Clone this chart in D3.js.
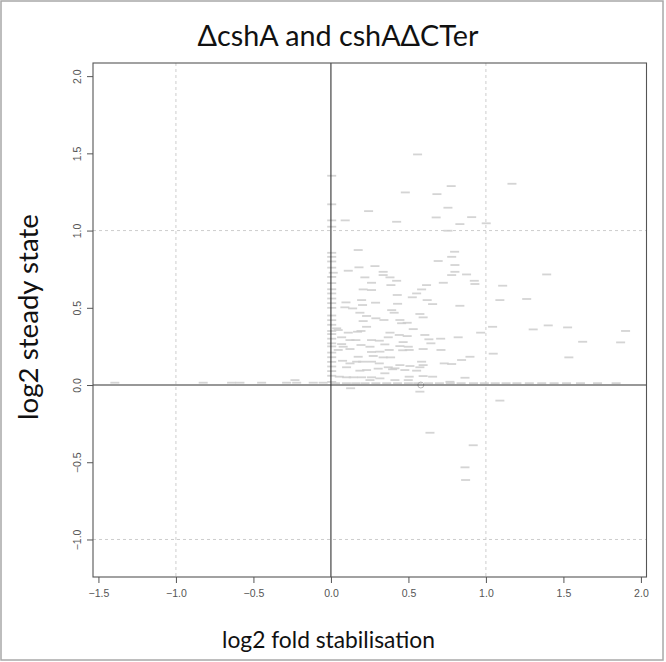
<!DOCTYPE html>
<html><head><meta charset="utf-8">
<script src="https://cdn.jsdelivr.net/npm/d3@7"></script>
<style>html,body{margin:0;padding:0;background:#fff;}svg{display:block;}</style>
</head><body>
<svg id="c" width="666" height="662"></svg>
<script>
const titleText = "\u0394cshA and cshA\u0394CTer";
const xLabel = "log2 fold stabilisation";
const yLabel = "log2 steady state";
const xTicks = [-1.5, -1.0, -0.5, 0.0, 0.5, 1.0, 1.5, 2.0];
const yTicks = [-1.0, -0.5, 0.0, 0.5, 1.0, 1.5, 2.0];
const xGrid = [-1, 1];
const yGrid = [-1, 1];
const highlighted = [[0.58, 0.0]];
// log2 fold stabilisation (x) and log2 steady state (y) for each gene label
const stabilisation = [
0.559,0.005,1.168,0.776,0.48,0.684,0.005,0.243,0.755,0.092,0.005,0.005,0.424,0.679,0.908,0.832,1.002,0.755,0.176,0.798,0.005,0.005,0.779,
0.692,0.8,0.284,0.181,0.112,0.337,0.015,0.8,0.779,0.875,0.219,0.337,0.381,0.424,0.925,0.262,0.725,0.929,1.108,0.387,0.617,0.208,0.262,0.585,0.005,0.553,0.428,0.525,0.198,0.621,1.09,0.097,0.288,0.43,0.656,0.204,0.005,0.09,0.14,0.832,0.392,0.187,0.408,0.23,0.574,0.595,0.29,0.342,0.445,0.208,0.456,0.492,0.005,0.23,0.531,0.047,0.037,0.172,0.194,0.112,0.381,0.966,1.043,0.005,0.441,0.492,0.606,0.069,0.821,0.37,0.123,0.161,0.262,0.312,0.632,0.708,0.466,0.348,0.069,0.079,0.005,0.194,0.252,0.445,0.499,0.645,0.047,0.123,0.595,0.262,0.316,0.376,0.463,0.505,0.71,0.897,0.843,1.047,0.176,0.273,0.337,0.385,0.005,0.075,0.123,0.166,0.204,0.262,0.312,0.585,0.595,0.731,0.779,0.445,0.51,0.37,0.398,0.413,0.101,0.187,0.23,0.305,0.477,0.553,0.574,0.348,0.054,0.101,0.144,0.198,0.262,0.316,0.505,0.595,0.656,0.865,0.252,0.413,0.499,0.768,0.127,0.574,
1.09,0.639,0.918,0.865,0.869,
1.392,1.263,1.305,1.402,1.527,1.901,1.624,1.869,1.535,
-1.394,-0.824,-0.641,-0.587,-0.447,-0.286,-0.221,-0.114,-0.05,-0.232,
0.03,0.1,0.16,0.22,0.29,0.36,0.43,0.5,0.56,0.63,0.7,0.77,0.84,0.92,0.99,1.06,1.13,1.2,1.28,1.36,1.44,1.52,1.61,1.72,1.84,
0.005,0.005,0.005,0.005,0.005,0.005,0.005,0.005,0.005,0.005,0.005,0.005,0.005,0.005,0.005,0.005,0.005,0.005
];
const steadyState = [
1.493,1.355,1.303,1.288,1.247,1.236,1.17,1.126,1.148,1.066,1.066,1.025,1.057,1.085,1.087,1.042,1.047,0.999,0.874,0.863,0.856,0.83,0.83,
0.803,0.777,0.77,0.762,0.74,0.733,0.727,0.733,0.712,0.716,0.697,0.712,0.697,0.675,0.675,0.662,0.662,0.654,0.643,0.647,0.647,0.619,0.615,0.619,0.593,0.593,0.583,0.568,0.55,0.55,0.55,0.535,0.533,0.526,0.524,0.518,0.5,0.503,0.496,0.513,0.485,0.468,0.468,0.447,0.46,0.438,0.432,0.421,0.421,0.414,0.4,0.403,0.39,0.377,0.362,0.356,0.367,0.345,0.35,0.339,0.339,0.339,0.377,0.33,0.324,0.317,0.324,0.309,0.309,0.309,0.291,0.291,0.291,0.287,0.296,0.3,0.278,0.263,0.265,0.248,0.25,0.259,0.248,0.252,0.248,0.27,0.227,0.233,0.233,0.214,0.216,0.227,0.225,0.227,0.227,0.183,0.162,0.203,0.183,0.188,0.179,0.179,0.18,0.157,0.14,0.151,0.151,0.151,0.14,0.151,0.129,0.14,0.136,0.129,0.123,0.115,0.102,0.108,0.115,0.093,0.097,0.106,0.097,0.093,0.115,0.076,0.054,0.05,0.05,0.05,0.05,0.043,0.054,0.058,0.054,0.047,0.032,0.032,0.032,0.021,-0.021,-0.043,
-0.101,-0.309,-0.39,-0.533,-0.615,
0.716,0.557,0.36,0.386,0.373,0.35,0.28,0.276,0.179,
0.015,0.015,0.015,0.015,0.015,0.015,0.015,0.015,0.015,0.032,
0.012,0.012,0.012,0.012,0.012,0.012,0.012,0.012,0.012,0.012,0.012,0.012,0.012,0.012,0.012,0.012,0.012,0.012,0.012,0.012,0.012,0.012,0.012,0.012,0.012,
0.02,0.06,0.09,0.12,0.15,0.21,0.27,0.3,0.35,0.42,0.45,0.53,0.56,0.62,0.66,0.7,0.76,0.8
];

const svg = d3.select("#c");
const m = {left: 93, top: 63, right: 646.5, bottom: 577};
const x = d3.scaleLinear().domain([-1.535, 2.036]).range([m.left, m.right]);
const y = d3.scaleLinear().domain([-1.243, 2.085]).range([m.bottom, m.top]);

// outer frame
svg.append("rect").attr("x", 1).attr("y", 1).attr("width", 662).attr("height", 659)
  .attr("fill", "#fff").attr("stroke", "#a8a8a8").attr("stroke-width", 1.5);

// grid lines
svg.selectAll(".gx").data(xGrid).join("line")
  .attr("x1", d => x(d)).attr("x2", d => x(d)).attr("y1", m.top).attr("y2", m.bottom)
  .attr("stroke", "#cdcdcd").attr("stroke-dasharray", "3,3");
svg.selectAll(".gy").data(yGrid).join("line")
  .attr("y1", d => y(d)).attr("y2", d => y(d)).attr("x1", m.left).attr("x2", m.right)
  .attr("stroke", "#cdcdcd").attr("stroke-dasharray", "3,3");

// points (gene labels rendered as tiny marks)
const pts = stabilisation.map((v, i) => [v, steadyState[i]]);
svg.append("g").selectAll("rect").data(pts).join("rect")
  .attr("x", d => x(d[0]) - 4.5).attr("y", d => y(d[1]) - 0.9)
  .attr("width", 9).attr("height", 1.8)
  .attr("fill", "#cccccc").attr("opacity", 0.85);

svg.selectAll(".hl").data(highlighted).join("circle")
  .attr("cx", d => x(d[0])).attr("cy", d => y(d[1])).attr("r", 3)
  .attr("fill", "none").attr("stroke", "#aaa").attr("stroke-width", 0.8);

// zero lines
svg.append("line").attr("x1", x(0)).attr("x2", x(0)).attr("y1", m.top).attr("y2", m.bottom)
  .attr("stroke", "#333").attr("stroke-width", 1.1);
svg.append("line").attr("y1", y(0)).attr("y2", y(0)).attr("x1", m.left).attr("x2", m.right)
  .attr("stroke", "#333").attr("stroke-width", 1.1);

// box
svg.append("rect").attr("x", m.left).attr("y", m.top).attr("width", m.right - m.left).attr("height", m.bottom - m.top)
  .attr("fill", "none").attr("stroke", "#555").attr("stroke-width", 1.1);

// axes
const xa = svg.append("g").attr("transform", `translate(0,${m.bottom})`)
  .call(d3.axisBottom(x).tickValues(xTicks).tickFormat(d3.format(".1f")).tickSize(6).tickPadding(7));
const ya = svg.append("g").attr("transform", `translate(${m.left},0)`)
  .call(d3.axisLeft(y).tickValues(yTicks).tickFormat(d3.format(".1f")).tickSize(6).tickPadding(9));
[xa, ya].forEach(g => {
  g.select(".domain").remove();
  g.selectAll(".tick line").attr("stroke", "#555");
  g.selectAll(".tick text").attr("fill", "#555").attr("font-family", "Liberation Sans, Arial, sans-serif").attr("font-size", 10.5);
});
ya.selectAll(".tick text").attr("text-anchor", "middle").attr("x", 0).attr("dy", null)
  .attr("dominant-baseline", "central")
  .attr("transform", "translate(-16,0) rotate(-90)");

// labels
function fit(t, w) {
  const cur = t.node().getComputedTextLength();
  const fs = +t.attr("font-size");
  t.attr("font-size", fs * w / cur);
}
const title = svg.append("text").attr("x", 338).attr("y", 46).attr("text-anchor", "middle")
  .attr("font-family", "Lato, 'Open Sans', sans-serif").attr("font-size", 32).attr("fill", "#111")
  .text(titleText);
fit(title, 281);
const xl = svg.append("text").attr("x", 328.5).attr("y", 648).attr("text-anchor", "middle")
  .attr("font-family", "Lato, 'Open Sans', sans-serif").attr("font-size", 22).attr("fill", "#111")
  .text(xLabel);
fit(xl, 213);
const yl = svg.append("text").attr("transform", "translate(38,317) rotate(-90)").attr("text-anchor", "middle")
  .attr("font-family", "Lato, 'Open Sans', sans-serif").attr("font-size", 22).attr("fill", "#111")
  .text(yLabel);
fit(yl, 206);
</script>
</body></html>
